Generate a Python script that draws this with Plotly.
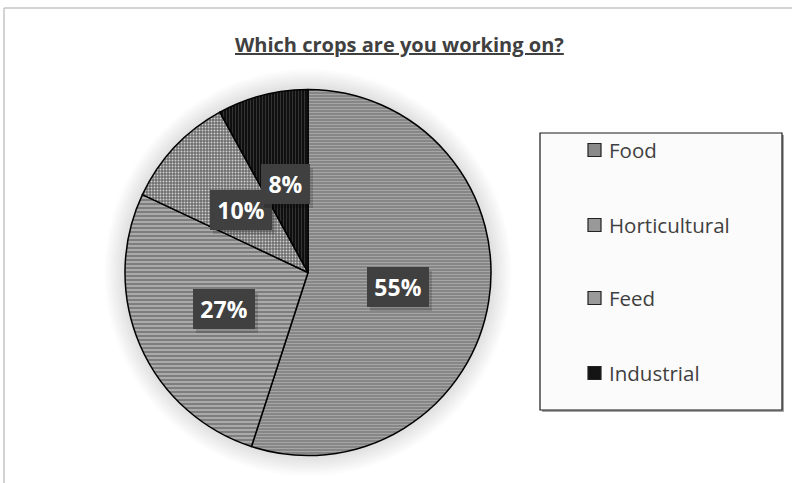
import math
import plotly.graph_objects as go

# Survey answers: share of respondents per crop type (%)
crops = ["Food", "Horticultural", "Feed", "Industrial"]
shares = [55, 27, 10, 8]

# Slice styling (hatched greyscale fills)
base_colors = ["#8a8a8a", "#858585", "#7a7a7a", "#111111"]
pat_shapes = ["-", "-", ".", "|"]
pat_fg = ["#a6a6a6", "#b6b6b6", "#cfcfcf", "#333333"]
pat_bg = ["#828282", "#7e7e7e", "#6c6c6c", "#0c0c0c"]
pat_size = [3, 4, 3, 3]
pat_solid = [0.4, 0.4, 0.35, 0.4]
swatch_colors = ["#8a8a8a", "#999999", "#9a9a9a", "#141414"]

title_text = "Which crops are you working on?"

W, H = 792, 483
cx, cy, r = 308, 272.5, 183  # pie centre / radius in px


def fx(px):
    return px / W


def fy(py):
    return 1 - py / H


fig = go.Figure(
    go.Pie(
        labels=crops,
        values=shares,
        sort=False,
        direction="clockwise",
        rotation=0,
        textinfo="none",
        hoverinfo="label+percent",
        showlegend=False,
        domain=dict(x=[fx(cx - r), fx(cx + r)], y=[fy(cy + r), fy(cy - r)]),
        marker=dict(
            colors=base_colors,
            line=dict(color="#000000", width=1.5),
            pattern=dict(
                shape=pat_shapes,
                fgcolor=pat_fg,
                bgcolor=pat_bg,
                size=pat_size,
                solidity=pat_solid,
                fillmode="replace",
            ),
        ),
    )
)

shapes = []
annotations = []

# chart-area frame (top and left edges)
shapes.append(dict(type="line", xref="paper", yref="paper", x0=fx(4), x1=1.01,
                   y0=fy(8), y1=fy(8), line=dict(color="#c4c4c4", width=1.5)))
shapes.append(dict(type="line", xref="paper", yref="paper", x0=fx(4), x1=fx(4),
                   y0=fy(8), y1=-0.01, line=dict(color="#c4c4c4", width=1.5)))

# soft glow around the pie
for k in range(16, 0, -1):
    rr = r + 1.3 * k
    shapes.append(dict(type="circle", xref="paper", yref="paper", layer="below",
                       x0=fx(cx - rr), x1=fx(cx + rr), y0=fy(cy + rr), y1=fy(cy - rr),
                       fillcolor="rgba(0,0,0,0.009)", line=dict(width=0)))

# value labels: dark boxes at half radius along each slice's mid-angle
total = sum(shares)
cum = 0
for v in shares:
    mid = (cum + v / 2) / total * 2 * math.pi
    cum += v
    bx = cx + 0.5 * r * math.sin(mid)
    by = cy - 0.5 * r * math.cos(mid)
    label = f"{round(100 * v / total)}%"
    bw = 36 + 13 * (len(label) - 1)
    common = dict(xref="paper", yref="paper", showarrow=False, width=bw, height=40,
                  borderpad=0, borderwidth=0, xanchor="center", yanchor="middle")
    annotations.append(dict(x=fx(bx + 3), y=fy(by + 4), text="",
                            bgcolor="rgba(0,0,0,0.16)", **common))
    annotations.append(dict(x=fx(bx), y=fy(by), text=f"<b>{label}</b>",
                            bgcolor="#404040",
                            font=dict(family="Open Sans", size=23, color="#ffffff"),
                            **common))

# title
annotations.append(dict(x=fx(399), y=fy(45), xref="paper", yref="paper", showarrow=False,
                        text=f"<b><u>{title_text}</u></b>",
                        font=dict(family="Open Sans", size=20, color="#404040"),
                        xanchor="center", yanchor="middle"))

# legend box with drop shadow
lx0, lx1, ly0, ly1 = 540, 782, 133, 410
shapes.append(dict(type="rect", xref="paper", yref="paper",
                   x0=fx(lx0 + 2), x1=fx(lx1 + 2), y0=fy(ly1 + 2), y1=fy(ly0 + 2),
                   fillcolor="rgba(0,0,0,0.35)", line=dict(width=0)))
shapes.append(dict(type="rect", xref="paper", yref="paper",
                   x0=fx(lx0), x1=fx(lx1), y0=fy(ly1), y1=fy(ly0),
                   fillcolor="#fbfbfb", line=dict(color="#1a1a1a", width=1.2)))

row_y = [150, 225, 298, 373]
for name, col, yy in zip(crops, swatch_colors, row_y):
    shapes.append(dict(type="rect", xref="paper", yref="paper",
                       x0=fx(588), x1=fx(601), y0=fy(yy + 6.5), y1=fy(yy - 6.5),
                       fillcolor=col, line=dict(color="#222222", width=1.2)))
    annotations.append(dict(x=fx(607), y=fy(yy), xref="paper", yref="paper",
                            showarrow=False, text=name, xanchor="left", yanchor="middle",
                            font=dict(family="Open Sans", size=20.5, color="#404040")))

fig.update_layout(
    width=W,
    height=H,
    margin=dict(l=0, r=0, t=0, b=0),
    paper_bgcolor="#ffffff",
    plot_bgcolor="#ffffff",
    shapes=shapes,
    annotations=annotations,
    showlegend=False,
)

fig.write_html("out.html")
